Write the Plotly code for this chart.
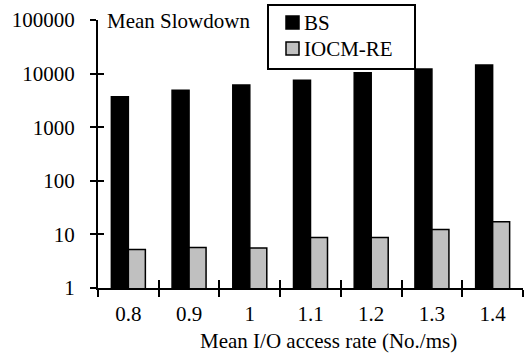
import plotly.graph_objects as go

categories = ["0.8", "0.9", "1", "1.1", "1.2", "1.3", "1.4"]
bs_values = [3700, 4900, 6100, 7500, 10400, 12200, 14500]
iocm_values = [5.2, 5.7, 5.6, 8.8, 8.8, 12.3, 17.3]
series_names = ["BS", "IOCM-RE"]
y_tickvals = [1, 10, 100, 1000, 10000, 100000]
y_ticktext = ["1", "10", "100", "1000", "10000", "100000"]

W, H = 524, 356
L, R, T, B = 98, 1, 20, 68
PW, PH = W - L - R, H - T - B

def px_x(px):
    return (px - L) / PW

def px_y(py):
    return (H - B - py) / PH

FONT = "Liberation Serif"
COLORS = ["black", "#c0c0c0"]
n = len(categories)
xs = list(range(n))
bounds = [i - 0.5 for i in range(n + 1)]

fig = go.Figure()
for name, vals, col in zip(series_names, [bs_values, iocm_values], COLORS):
    fig.add_trace(go.Bar(x=xs, y=vals, name=name,
                         marker=dict(color=col, line=dict(color="black", width=1.5))))
# dummy traces so overlay axes render
fig.add_trace(go.Scatter(x=[0], y=[1], xaxis="x2", yaxis="y", mode="markers",
                         marker=dict(opacity=0), showlegend=False, hoverinfo="skip"))
fig.add_trace(go.Scatter(x=[0], y=[1], xaxis="x3", yaxis="y2", mode="markers",
                         marker=dict(opacity=0), showlegend=False, hoverinfo="skip"))

xr = [-0.5, n - 0.5]
fig.update_layout(
    width=W, height=H,
    margin=dict(l=L, r=R, t=T, b=B, pad=0),
    paper_bgcolor="white", plot_bgcolor="white",
    font=dict(family=FONT, size=21, color="black"),
    barmode="group", bargap=0.44, bargroupgap=0,
    showlegend=False,
    xaxis=dict(range=xr, tickmode="array", tickvals=bounds, showticklabels=False,
               ticks="outside", ticklen=7, tickwidth=2, tickcolor="black",
               showline=True, linecolor="black", linewidth=2, showgrid=False, zeroline=False),
    xaxis2=dict(range=xr, overlaying="x", side="bottom", tickmode="array", tickvals=xs,
                ticktext=categories, ticks="", showline=False, showgrid=False, zeroline=False,
                ticklabelstandoff=11, tickfont=dict(family=FONT, size=21)),
    xaxis3=dict(range=xr, overlaying="x", side="bottom", tickmode="array", tickvals=bounds,
                showticklabels=False, ticks="inside", ticklen=8, tickwidth=2, tickcolor="black",
                showline=False, showgrid=False, zeroline=False),
    yaxis=dict(type="log", range=[0, 5], tickmode="array", tickvals=y_tickvals,
               ticktext=y_ticktext, ticks="outside", ticklen=6, tickwidth=2, tickcolor="black",
               showline=True, linecolor="black", linewidth=2, showgrid=False, zeroline=False,
               ticklabelstandoff=11, tickfont=dict(family=FONT, size=21)),
    yaxis2=dict(type="log", range=[0, 5], overlaying="y", side="left", tickmode="array",
                tickvals=y_tickvals, showticklabels=False, ticks="inside", ticklen=6,
                tickwidth=2, tickcolor="black", showline=False, showgrid=False, zeroline=False),
)

# manual legend (box, swatches, labels)
fig.add_shape(type="rect", xref="paper", yref="paper",
              x0=px_x(268), x1=px_x(415), y0=px_y(69), y1=px_y(5),
              line=dict(color="black", width=2), fillcolor="white", layer="above")
for i, (name, col) in enumerate(zip(series_names, COLORS)):
    top = 16 + i * 26
    fig.add_shape(type="rect", xref="paper", yref="paper",
                  x0=px_x(286), x1=px_x(299), y0=px_y(top + 13), y1=px_y(top),
                  line=dict(color="black", width=1.5), fillcolor=col, layer="above")
    fig.add_annotation(text=name, xref="paper", yref="paper",
                       x=px_x(302), y=px_y(top + 7), xanchor="left", yanchor="middle",
                       showarrow=False, font=dict(family=FONT, size=21))

fig.add_annotation(text="Mean Slowdown", xref="paper", yref="paper",
                   x=px_x(105), y=px_y(21), xanchor="left", yanchor="middle",
                   showarrow=False, font=dict(family=FONT, size=21))
fig.add_annotation(text="Mean I/O access rate (No./ms)", xref="paper", yref="paper",
                   x=px_x(328), y=px_y(341), xanchor="center", yanchor="middle",
                   showarrow=False, font=dict(family=FONT, size=21))
fig.write_html("out.html")
